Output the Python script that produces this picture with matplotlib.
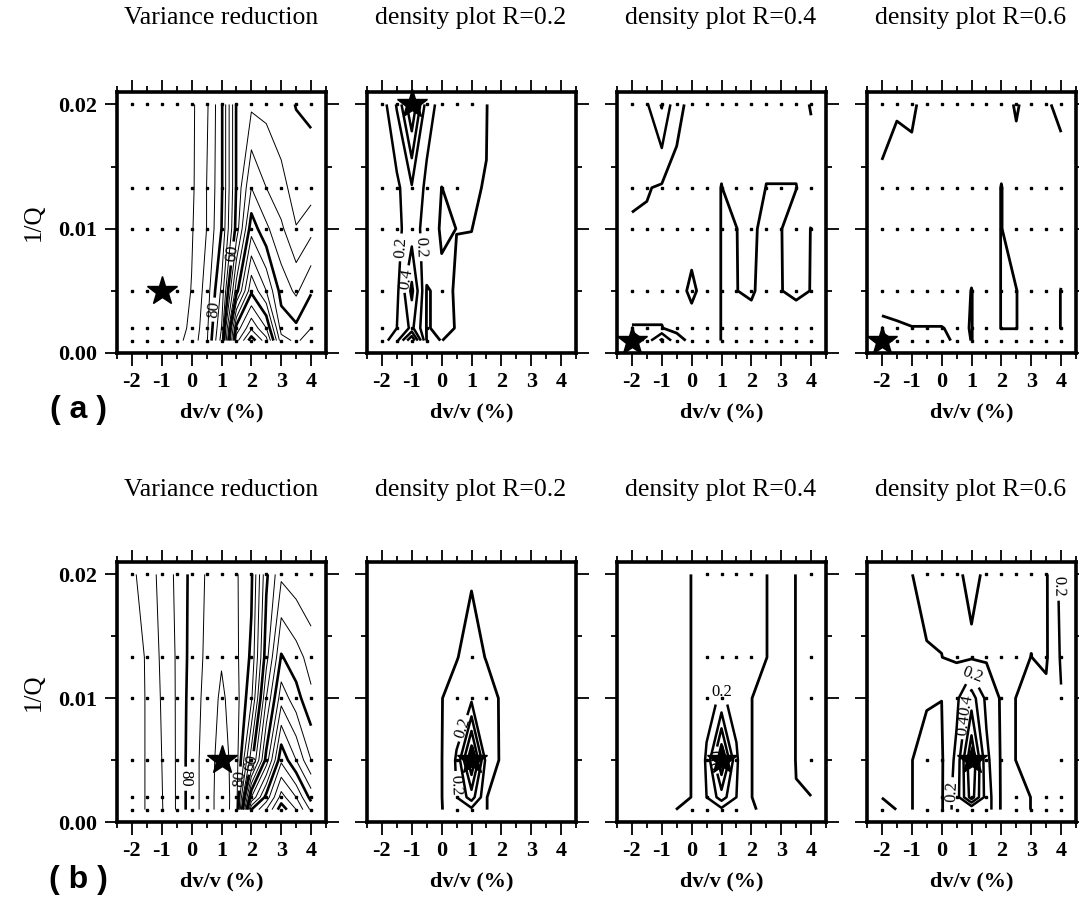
import numpy as np
import matplotlib
matplotlib.use('Agg')
import matplotlib.pyplot as plt

plt.rcParams['font.family'] = ['Liberation Serif', 'DejaVu Serif']
plt.rcParams['axes.unicode_minus'] = False

# search grid: dv/v (%) and 1/Q
dvv = [-2, -1.5, -1, -0.5, 0, 0.5, 1, 1.5, 2, 2.5, 3, 3.5, 4]
invq = [0.001, 0.002, 0.005, 0.01, 0.0133, 0.02]

# values, one row per 1/Q (bottom to top)
vr_a = [[99, 99, 99, 96.5, 93, 86, 68, 12, -3, 8, 33, 36, 32],
        [99, 99, 99, 97, 94, 86.5, 70, 18, 6, 15, 37, 39, 35],
        [99, 99, 99, 98, 94.8, 88, 74, 42, 21, 30, 42, 46, 40.5],
        [99, 99, 99, 94.95, 95.5, 90, 80, 58, 37, 44, 49, 54.8, 51.5],
        [99, 99, 99, 98, 96, 90, 81, 59.5, 45, 50, 53.5, 57, 57.5],
        [99, 99, 99, 98, 96, 91, 81, 59.5, 56, 56.5, 58, 60.2, 61]]

dens_a02 = [[0.10, 0.35, 1.00, 0.01, 0.021, 0, 0, 0, 0, 0, 0, 0, 0],
            [0.08, 0.20, 0.45, 0.01, 0.05, 0.015, 0, 0, 0, 0, 0, 0, 0],
            [0.06, 0.15, 0.65, 0.01, 0.05, 0.01, 0, 0, 0, 0, 0, 0, 0],
            [0.05, 0.15, 0.30, 0.12, 0, 0.021, 0.021, 0, 0, 0, 0, 0, 0],
            [0.05, 0.15, 0.38, 0.15, 0.019, 0.05, 0.021, 0.0195, 0, 0, 0, 0, 0],
            [0.10, 0.42, 1.00, 0.30, 0.12, 0.08, 0.05, 0.021, 0, 0, 0, 0, 0]]

dens_a04 = [[0.60, 0.10, 0.45, 0.05, 0, 0, 0.021, 0.05, 0.05, 0.05, 0.05, 0.05, 0.05],
            [0.022, 0.022, 0.022, 0, 0, 0, 0.021, 0.05, 0.05, 0.05, 0.05, 0.05, 0.05],
            [0, 0, 0, 0, 0.03, 0, 0.021, 0.021, 0.01, 0.05, 0.021, 0.01, 0.021],
            [0, 0, 0, 0, 0, 0, 0.021, 0.021, 0, 0.05, 0.021, 0, 0.021],
            [0.05, 0.03, 0, 0, 0, 0, 0.021, 0, 0, 0.021, 0.021, 0.021, 0],
            [0.12, 0.18, 0.42, 0.04, 0, 0, 0, 0, 0, 0, 0, 0, 0.023]]

dens_a06 = [[0.50, 0.10, 0.10, 0.10, 0.05, 0, 0.021, 0, 0, 0, 0, 0, 0],
            [0.03, 0.025, 0.021, 0.021, 0.021, 0.015, 0.021, 0, 0.021, 0.021, 0, 0, 0.021],
            [0, 0, 0, 0, 0, 0, 0.021, 0, 0.021, 0.021, 0, 0, 0.021],
            [0, 0, 0, 0, 0, 0, 0, 0, 0.021, 0, 0, 0, 0],
            [0, 0, 0, 0, 0, 0, 0, 0, 0.021, 0, 0, 0, 0],
            [0.06, 0.025, 0.03, 0, 0, 0, 0, 0, 0, 0.025, 0, 0.015, 0.03]]

vr_b = [[63, 65.3, 69.6, 75.5, 83, 87, 93, 87.4, 20, 10, -3, 5, 16],
        [63, 65.3, 69.7, 75.5, 83, 87, 93, 87.5, 35, 18, 3, 10, 22],
        [63, 65.3, 70, 75.5, 83, 87, 92.5, 87.5, 62, 38, 16, 25, 35],
        [63, 65.3, 70.5, 75.5, 82.5, 86.5, 91, 87, 76, 50, 32, 38, 44],
        [63.5, 65.3, 71, 75.5, 82, 86, 89.5, 86, 79, 57, 39.5, 43, 47],
        [64, 67.5, 71.5, 76, 81.5, 85.5, 88, 85.5, 81, 61, 51, 53, 55]]

dens_b02 = [[0, 0, 0, 0, 0.015, 0.10, 0.15, 0.021, 0, 0, 0, 0, 0],
            [0, 0, 0, 0, 0.015, 0.20, 0.50, 0.021, 0, 0, 0, 0, 0],
            [0, 0, 0, 0, 0.015, 0.22, 1.00, 0.12, 0, 0, 0, 0, 0],
            [0, 0, 0, 0, 0.015, 0.10, 0.15, 0.10, 0, 0, 0, 0, 0],
            [0, 0, 0, 0, 0, 0.01, 0.10, 0.01, 0, 0, 0, 0, 0],
            [0, 0, 0, 0, 0, 0, 0, 0, 0, 0, 0, 0, 0]]

dens_b04 = [[0, 0, 0, 0.021, 0.021, 0.05, 0.15, 0.05, 0.03, 0, 0, 0, 0],
            [0, 0, 0, 0, 0.021, 0.20, 0.50, 0.20, 0.021, 0, 0, 0.019, 0.019],
            [0, 0, 0, 0, 0.021, 0.22, 1.00, 0.22, 0.021, 0, 0, 0.021, 0.05],
            [0, 0, 0, 0, 0.021, 0.15, 0.22, 0.15, 0.021, 0, 0, 0.021, 0.05],
            [0, 0, 0, 0, 0.021, 0.05, 0.08, 0.05, 0.05, 0.021, 0, 0.021, 0.05],
            [0, 0, 0, 0, 0.021, 0.05, 0.05, 0.05, 0.05, 0.021, 0, 0.021, 0.05]]

dens_b06 = [[0, 0.021, 0.021, 0, 0, 0.30, 0.20, 0.30, 0, 0, 0.021, 0.05, 0.05],
            [0.021, 0.05, 0.021, 0, 0, 0.30, 0.90, 0.30, 0, 0, 0.021, 0.05, 0.05],
            [0.05, 0.05, 0.021, 0, 0, 0.25, 1.00, 0.25, 0, 0.021, 0.05, 0.05, 0.10],
            [0.05, 0.05, 0.05, 0.025, 0.021, 0.15, 0.50, 0.15, 0, 0.021, 0.05, 0.05, 0.19],
            [0.05, 0.05, 0.05, 0.025, 0.021, 0, 0, 0, 0, 0, 0.021, 0, 0.22],
            [0.05, 0.05, 0.021, 0, 0, 0, 0.05, 0, 0, 0, 0, 0, 0.25]]

# grid points drawn as dots (1 = shown)
dots_all = [[1] * 13] * 6
dots_a02 = [[1, 1, 1, 1, 0, 0, 0, 0, 0, 0, 0, 0, 0],
            [1, 1, 1, 1, 0, 0, 0, 0, 0, 0, 0, 0, 0],
            [1, 0, 0, 0, 1, 0, 0, 0, 0, 0, 0, 0, 0],
            [1, 1, 1, 1, 0, 0, 0, 0, 0, 0, 0, 0, 0],
            [1, 1, 1, 1, 1, 1, 0, 0, 0, 0, 0, 0, 0],
            [1, 1, 1, 1, 1, 1, 1, 0, 0, 0, 0, 0, 0]]
dots_b02 = [[0, 0, 0, 0, 0, 1, 1, 0, 0, 0, 0, 0, 0],
            [0, 0, 0, 0, 0, 1, 0, 0, 0, 0, 0, 0, 0],
            [0, 0, 0, 0, 0, 1, 0, 0, 0, 0, 0, 0, 0],
            [0, 0, 0, 0, 0, 1, 1, 1, 0, 0, 0, 0, 0],
            [0, 0, 0, 0, 0, 0, 1, 0, 0, 0, 0, 0, 0],
            [0, 0, 0, 0, 0, 0, 0, 0, 0, 0, 0, 0, 0]]
dots_b04 = [[0, 0, 0, 0, 1, 1, 1, 1, 0, 0, 0, 0, 0],
            [0, 0, 0, 0, 0, 1, 0, 0, 0, 0, 0, 0, 0],
            [0, 0, 0, 0, 0, 1, 0, 1, 0, 0, 0, 0, 1],
            [0, 0, 0, 0, 0, 1, 1, 0, 0, 0, 0, 0, 1],
            [0, 0, 0, 0, 0, 1, 1, 1, 1, 0, 0, 0, 1],
            [0, 0, 0, 0, 0, 1, 1, 1, 1, 0, 0, 0, 1]]
dots_b06 = [[1, 0, 0, 1, 1, 1, 1, 1, 0, 1, 1, 1, 1],
            [0, 0, 0, 0, 1, 1, 1, 1, 0, 1, 0, 1, 1],
            [0, 0, 0, 1, 1, 0, 0, 1, 1, 0, 0, 0, 1],
            [0, 0, 0, 0, 0, 1, 0, 1, 1, 0, 0, 0, 1],
            [0, 0, 0, 0, 0, 1, 1, 1, 1, 1, 0, 1, 1],
            [0, 0, 0, 1, 1, 1, 0, 1, 1, 1, 1, 1, 0]]

# best-fit model (star) per panel
stars = [(-1, 0.005), (-1, 0.02), (-2, 0.001), (-2, 0.001),
         (1, 0.005), (1, 0.005), (1, 0.005), (1, 0.005)]

titles = ['Variance reduction', 'density plot R=0.2',
          'density plot R=0.4', 'density plot R=0.6']

vr_thin = [l for l in range(0, 100, 5) if l % 20 != 0]
vr_thick = [0, 20, 40, 60, 80]
dens_low = [0.02]
dens_high = [0.2, 0.4, 0.6, 0.8]

# label positions for contour annotations
labels_a = [[(0.7, 0.0035), (1.38, 0.008)],
            [(-1.4, 0.0085), (-1.3, 0.006), (-0.75, 0.0085)],
            [], []]
labels_b = [[(-0.2, 0.0035), (1.65, 0.0035), (1.95, 0.0048)],
            [(0.8, 0.0075), (0.5, 0.003)],
            [(0.6, 0.0122), (0.7, 0.005)],
            [(3.95, 0.019), (1.5, 0.0125), (0.8, 0.0095), (0.75, 0.0078), (0.3, 0.0025)]]

fields = [[vr_a, dens_a02, dens_a04, dens_a06], [vr_b, dens_b02, dens_b04, dens_b06]]
dotmasks = [[dots_all, dots_a02, dots_all, dots_all], [dots_all, dots_b02, dots_b04, dots_b06]]

X, Y = np.meshgrid(dvv, invq)

fig = plt.figure(figsize=(10.79, 9), dpi=100)
W, H = 1079, 900
lefts = [117, 367, 617, 867]
rows = [(92, 353), (562, 822)]

for r in range(2):
    top, bot = rows[r]
    for c in range(4):
        ax = fig.add_axes([lefts[c] / W, (H - bot) / H, 209 / W, (bot - top) / H])
        Z = np.array(fields[r][c], dtype=float)
        mask = np.array(dotmasks[r][c], dtype=bool)
        ax.plot(X[mask], Y[mask], 's', ms=1.8, color='k', zorder=1)
        labs = labels_a[c] if r == 0 else labels_b[c]
        if c == 0:
            ax.contour(X, Y, Z, levels=vr_thin, colors='k', linewidths=0.7, zorder=2)
            cs = ax.contour(X, Y, Z, levels=vr_thick, colors='k', linewidths=1.9, zorder=2)
            if labs:
                ax.clabel(cs, manual=labs, fmt='%d', fontsize=12, inline=True)
        else:
            ax.contour(X, Y, Z, levels=dens_low, colors='k', linewidths=2.0, zorder=2)
            cs = ax.contour(X, Y, Z, levels=dens_high, colors='k', linewidths=1.8, zorder=2)
            if labs:
                ax.clabel(cs, manual=labs, fmt='%.1f', fontsize=12, inline=True)
        sx, sy = stars[r * 4 + c]
        ax.plot(sx, sy, marker='*', ms=22, color='k', mec='k', clip_on=False, zorder=5)

        ax.set_xlim(-2.2, 4.4)
        ax.set_ylim(0, 0.021)
        ax.set_xticks(range(-2, 5))
        ax.set_xticks([v + 0.5 for v in range(-3, 5)], minor=True)
        ax.set_yticks([0, 0.01, 0.02])
        ax.set_yticks([0.005, 0.015], minor=True)
        ax.tick_params(which='both', direction='out', top=True, right=True, width=1.3)
        ax.tick_params(which='major', length=9, labelsize=16, pad=5)
        ax.tick_params(which='minor', length=4.5)
        for s in ax.spines.values():
            s.set_linewidth(2.6)
        for t in ax.get_xticklabels():
            t.set_fontweight('bold')
        if c == 0:
            ax.set_yticklabels(['0.00', '0.01', '0.02'], fontweight='bold')
            ax.set_ylabel('1/Q', fontsize=18, labelpad=10)
        else:
            ax.set_yticklabels([])
        ax.set_xlabel('dv/v (%)', fontsize=16, fontweight='bold', labelpad=7)
        fig.text((lefts[c] + 104) / W, 1 - (18 if r == 0 else 490) / H, titles[c],
                 ha='center', va='center', fontsize=18.5)

fig.text(78 / W, 1 - 410 / H, '( a )', ha='center', va='center', fontsize=23,
         fontweight='bold', family='Liberation Sans')
fig.text(78 / W, 1 - 880 / H, '( b )', ha='center', va='center', fontsize=23,
         fontweight='bold', family='Liberation Sans')

fig.savefig('out.png', dpi=100)
